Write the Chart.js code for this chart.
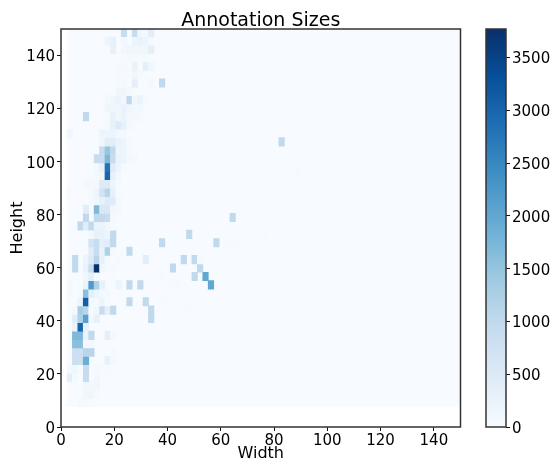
<!DOCTYPE html>
<html><head><meta charset="utf-8">
<script src="https://cdn.jsdelivr.net/npm/chart.js@4"></script>
<style>html,body{margin:0;padding:0;background:#fff}canvas{position:absolute;top:0}#main{left:0}#bar{left:480px}</style>
</head><body>
<canvas id="main" width="551" height="460"></canvas>
<canvas id="bar" width="71" height="460"></canvas>
<script>
const chartTitle = "Annotation Sizes";
const xTitle = "Width";
const yTitle = "Height";
const xTickValues = [0,20,40,60,80,100,120,140];
const yTickValues = [0,20,40,60,80,100,120,140];
const colorTickValues = [0,500,1000,1500,2000,2500,3000,3500];
const maxCount = 3770;
const axisMax = 150;
const widthStart = 2.25, widthBin = 2.04;
const heightStart = 7.6, heightBin = 3.17;
const blues = ["#f7fbff","#deebf7","#c6dbef","#9ecae1","#6baed6","#4292c6","#2171b5","#08519c","#08306b"];
// row index (height bin) -> [[width bin, annotation count], ...]
const countsByHeightBin = {
 0:[[2,60],[3,60],[4,40]],
 1:[[3,150],[4,150],[5,40]],
 2:[[3,120],[4,120],[5,120],[9,30]],
 3:[[0,350],[1,60],[3,900],[5,100]],
 4:[[0,80],[1,150],[3,900],[5,50],[6,30],[7,30]],
 5:[[1,800],[2,800],[3,1900],[7,300],[8,60]],
 6:[[1,800],[2,800],[3,1100],[4,1100],[8,50],[14,30]],
 7:[[1,1600],[2,1600],[3,100],[4,100]],
 8:[[1,1700],[2,1700],[3,250],[4,1000],[7,350],[8,60],[15,30]],
 9:[[1,250],[2,3000],[3,300],[11,20]],
 10:[[1,400],[2,1200],[3,2100],[4,100],[5,300],[15,1000]],
 11:[[1,50],[2,1300],[3,1100],[4,50],[5,150],[6,900],[7,350],[8,1000],[15,1000],[22,40]],
 12:[[0,40],[2,200],[3,3100],[4,60],[5,60],[6,200],[7,40],[11,1000],[14,1000],[17,30]],
 13:[[0,60],[3,1600],[4,350],[5,200],[6,50],[7,100]],
 14:[[0,60],[3,250],[4,2200],[5,1200],[6,300],[9,200],[11,1000],[13,1000],[19,20],[20,20],[26,2000]],
 15:[[3,150],[4,350],[5,60],[8,40],[17,20],[23,1000],[25,2000]],
 16:[[1,1000],[3,250],[4,900],[5,3770],[6,150],[7,50],[8,50],[19,1000],[24,1000]],
 17:[[1,1000],[3,200],[4,500],[5,1100],[6,300],[7,60],[9,30],[14,400],[21,1000],[23,1000],[24,50]],
 18:[[4,400],[5,900],[6,250],[7,1200],[8,60],[9,30],[11,1000]],
 19:[[4,700],[5,900],[6,350],[7,400],[8,1000],[17,1000],[27,1000],[29,15],[30,15],[31,15]],
 20:[[4,100],[5,300],[6,300],[7,200],[8,1000],[22,1000],[36,15]],
 21:[[2,1000],[3,400],[4,1000],[5,250],[6,250],[7,120],[8,40]],
 22:[[3,1000],[5,1000],[6,1000],[7,900],[8,80],[30,1000]],
 23:[[3,400],[5,1700],[6,550],[7,550],[8,120],[9,80]],
 24:[[4,60],[5,150],[6,300],[7,450],[8,450],[9,50]],
 25:[[0,30],[4,60],[5,200],[6,700],[7,1100],[8,300],[9,40]],
 26:[[3,100],[4,100],[5,100],[6,500],[7,500],[8,200],[9,40]],
 27:[[5,60],[6,150],[7,3000],[8,300],[9,80],[42,15]],
 28:[[5,60],[6,300],[7,2800],[8,450],[9,200],[10,40],[42,15]],
 29:[[5,900],[6,900],[7,1700],[8,900],[9,250],[10,200],[11,100],[12,60]],
 30:[[6,900],[7,1500],[8,1000],[9,200],[10,200],[11,60]],
 31:[[6,150],[7,400],[8,400],[9,250],[10,200],[11,60],[39,1000]],
 32:[[0,150],[6,200],[7,200],[8,200],[9,100],[10,100]],
 33:[[7,60],[8,300],[9,500],[10,300],[11,100]],
 34:[[3,1000],[8,300],[9,150],[10,250],[11,100],[12,80],[13,50]],
 35:[[7,150],[8,150],[9,150],[10,250],[11,150],[12,100],[13,80]],
 36:[[7,80],[8,150],[9,250],[10,100],[11,1000],[12,150],[13,250],[14,60]],
 37:[[9,150],[10,150],[11,100]],
 38:[[9,40],[10,50],[12,350],[15,100],[17,1000]],
 39:[[9,50],[10,40],[11,40],[12,150],[13,60]],
 40:[[9,50],[10,50],[12,250],[14,350],[15,150]],
 41:[[10,40],[11,50],[12,60],[13,60],[14,60]],
 42:[[8,300],[10,100],[11,150],[12,150],[13,150],[14,150],[15,350]],
 43:[[7,200],[8,300],[10,100],[12,200],[13,250],[14,200],[15,60],[17,30]],
 44:[[10,900],[12,900],[13,150],[14,100],[15,400]]
};

function blueFor(v){
  const t = Math.min(1, v/maxCount)*(blues.length-1);
  const i = Math.min(blues.length-2, Math.floor(t));
  const f = t-i;
  const a = parseInt(blues[i].slice(1),16), b = parseInt(blues[i+1].slice(1),16);
  const m = s => Math.round(((a>>s)&255)*(1-f)+((b>>s)&255)*f);
  return `rgb(${m(16)},${m(8)},${m(0)})`;
}
const cells = [];
Object.keys(countsByHeightBin).forEach(r=>{
  countsByHeightBin[r].forEach(([c,v])=>{
    cells.push({x: widthStart+widthBin*(c+0.5), y:[heightStart+heightBin*r, heightStart+heightBin*(+r+1)], v});
  });
});
const tickFont = {family:"'DejaVu Sans'", size:15};
const ink = '#111';
const frame = {
  id:'frame',
  beforeDatasetsDraw(ch){
    const {ctx,scales:{x,y},chartArea:a}=ch;
    ctx.save();
    ctx.fillStyle = blues[0];
    const l=x.getPixelForValue(widthStart), b=y.getPixelForValue(heightStart);
    ctx.fillRect(l,a.top,a.right-l,b-a.top);
    ctx.restore();
  },
  afterDraw(ch){
    const {ctx,chartArea:a}=ch;
    ctx.save();
    ctx.strokeStyle='#333';
    ctx.lineWidth=1.5;
    ctx.strokeRect(a.left,a.top,a.right-a.left,a.bottom-a.top);
    ctx.restore();
  }
};
new Chart(document.getElementById('main'),{
  type:'bar',
  data:{datasets:[{
    data:cells, parsing:{xAxisKey:'x',yAxisKey:'y'},
    backgroundColor:c=>c.raw?blueFor(c.raw.v):blues[0],
    borderWidth:0, barThickness:5.5, grouped:false
  }]},
  options:{
    responsive:false, animation:false,
    layout:{padding:{top:0,left:0,right:90.5,bottom:0}},
    plugins:{
      legend:{display:false},tooltip:{enabled:false},
      title:{display:true,text:chartTitle,fullSize:false,color:'#000',font:{family:"'DejaVu Sans'",size:19,weight:'normal'},padding:{top:10,bottom:-3.8}}
    },
    scales:{
      x:{type:'linear',min:0,max:axisMax,offset:false,
        grid:{offset:false,drawOnChartArea:false,drawTicks:true,tickLength:4,color:ink},
        border:{display:false},
        afterBuildTicks:s=>{s.ticks=xTickValues.map(value=>({value}))},
        afterFit:s=>{s.height=33},
        ticks:{font:tickFont,color:'#000',maxRotation:0,autoSkip:false,padding:1},
        title:{display:true,text:xTitle,color:'#000',font:{family:"'DejaVu Sans'",size:16},padding:{top:0,bottom:-3.5}}
      },
      y:{type:'linear',min:0,max:axisMax,
        grid:{drawOnChartArea:false,drawTicks:true,tickLength:4,color:ink},
        border:{display:false},
        afterBuildTicks:s=>{s.ticks=yTickValues.map(value=>({value}))},
        afterFit:s=>{s.width=61},
        ticks:{font:tickFont,color:'#000',autoSkip:false,padding:2,labelOffset:2},
        title:{display:true,text:yTitle,color:'#000',font:{family:"'DejaVu Sans'",size:16},padding:{top:8,bottom:0}}
      }
    }
  },
  plugins:[frame]
});
new Chart(document.getElementById('bar'),{
  type:'bar',
  data:{labels:['count'],datasets:[{
    data:[[0,maxCount]],
    backgroundColor(c){
      const a=c.chart.chartArea; if(!a) return blues[0];
      const g=c.chart.ctx.createLinearGradient(0,a.bottom,0,a.top);
      blues.forEach((col,i)=>g.addColorStop(i/(blues.length-1),col));
      return g;
    },
    borderWidth:0,barPercentage:1,categoryPercentage:1
  }]},
  options:{
    responsive:false,animation:false,
    layout:{padding:{top:29,bottom:33,left:6,right:0}},
    plugins:{legend:{display:false},tooltip:{enabled:false}},
    scales:{
      x:{display:false},
      y:{position:'right',min:0,max:maxCount,
        grid:{drawOnChartArea:false,drawTicks:true,tickLength:4,color:ink},
        border:{display:false},
        afterBuildTicks:s=>{s.ticks=colorTickValues.map(value=>({value}))},
        afterFit:s=>{s.width=45},
        ticks:{font:tickFont,color:'#000',autoSkip:false,padding:2,labelOffset:2,callback:v=>String(v)}
      }
    }
  },
  plugins:[{id:'barFrame',afterDraw(ch){
    const {ctx,chartArea:a}=ch;ctx.save();ctx.strokeStyle='#333';ctx.lineWidth=1.5;
    ctx.strokeRect(a.left,a.top,a.right-a.left,a.bottom-a.top);ctx.restore();
  }}]
});
</script>
</body></html>
